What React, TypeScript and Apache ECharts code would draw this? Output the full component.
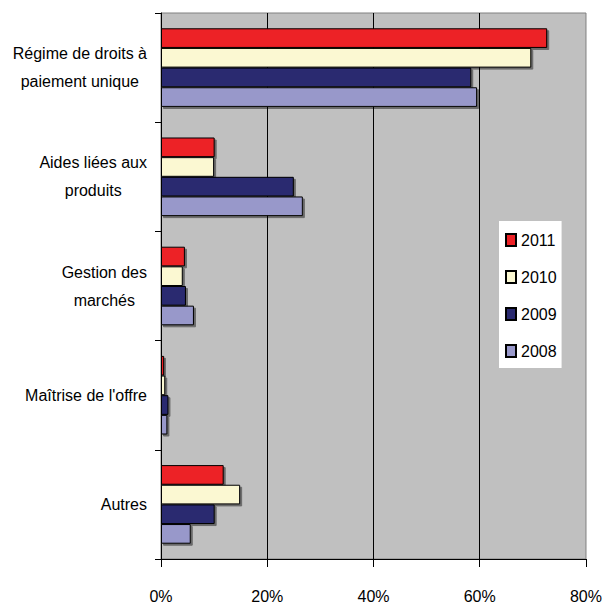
import React, { useEffect, useRef } from "react";
import * as echarts from "echarts";

const categories = [
  "Régime de droits à\npaiement unique",
  "Aides liées aux\nproduits",
  "Gestion des\nmarchés",
  "Maîtrise de l'offre",
  "Autres",
];
const years = ["2011", "2010", "2009", "2008"];
const values2011 = [72.7, 10.1, 4.5, 0.6, 11.8];
const values2010 = [69.7, 10.0, 4.1, 0.8, 14.9];
const values2009 = [58.4, 25.0, 4.7, 1.4, 10.1];
const values2008 = [59.5, 26.7, 6.2, 1.2, 5.6];
const xTicks = { min: 0, max: 80, interval: 20 };

const colors = ["#ED2126", "#FBF8D2", "#29296F", "#9898CA"];
const FONT = "'Liberation Sans', Arial, sans-serif";

export default function App() {
  const ref = useRef<HTMLDivElement>(null);
  useEffect(() => {
    if (!ref.current) return;
    const chart = echarts.init(ref.current, undefined, { renderer: "svg" });
    const seriesData = [values2011, values2010, values2009, values2008];
    chart.setOption({
      animation: false,
      textStyle: { fontFamily: FONT },
      grid: {
        left: 161,
        right: 19,
        top: 13,
        bottom: 46,
        show: true,
        backgroundColor: "#C0C0C0",
        borderColor: "#808080",
        borderWidth: 1,
      },
      legend: {
        orient: "vertical",
        left: 499,
        top: 221,
        padding: [11, 5, 9, 6],
        itemGap: 21,
        itemWidth: 10,
        itemHeight: 12,
        backgroundColor: "#FFFFFF",
        icon: "rect",
        data: years,
        textStyle: { fontSize: 16, color: "#000", fontFamily: FONT, lineHeight: 16 },
      },
      xAxis: {
        type: "value",
        min: xTicks.min,
        max: xTicks.max,
        interval: xTicks.interval,
        axisLine: { show: true, lineStyle: { color: "#000", width: 1 } },
        axisTick: { show: true, length: 8, lineStyle: { color: "#000" } },
        axisLabel: {
          formatter: "{value}%",
          fontSize: 16,
          color: "#000",
          margin: 29,
          fontFamily: FONT,
        },
        splitLine: {
          show: true,
          showMinLine: false,
          showMaxLine: false,
          lineStyle: { color: "#000", width: 1 },
        },
      },
      yAxis: {
        type: "category",
        inverse: true,
        data: categories,
        axisLine: { show: true, lineStyle: { color: "#000", width: 1 } },
        axisTick: { show: true, length: 6, lineStyle: { color: "#000" } },
        splitLine: { show: false },
        axisLabel: {
          margin: 14,
          color: "#000",
          fontSize: 16,
          fontFamily: FONT,
          formatter: (v: string) =>
            v
              .split("\n")
              .map((l) => `{c|${l}}`)
              .join("\n"),
          rich: {
            c: {
              align: "center",
              fontSize: 16,
              lineHeight: 28,
              color: "#000",
              fontFamily: FONT,
            },
          },
        },
      },
      series: years.map((y, i) => ({
        name: y,
        type: "bar",
        data: seriesData[i],
        barGap: "0%",
        barCategoryGap: "28%",
        itemStyle: {
          color: colors[i],
          borderColor: "#000",
          borderWidth: 1,
          shadowColor: "rgba(0,0,0,0.45)",
          shadowOffsetX: 2,
          shadowOffsetY: 2,
          shadowBlur: 1,
        },
      })),
    });
    return () => chart.dispose();
  }, []);
  return (
    <div
      ref={ref}
      style={{ position: "absolute", left: 0, top: 0, width: 605, height: 605 }}
    />
  );
}
